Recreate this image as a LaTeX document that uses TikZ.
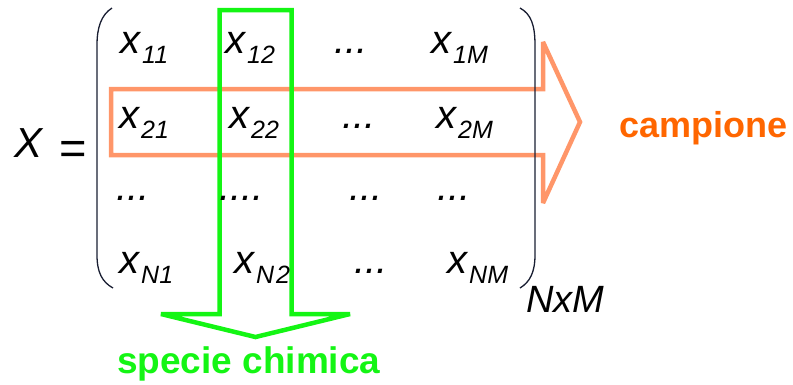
\documentclass[tikz,border=0pt]{standalone}
\usepackage{fontspec}
\setmainfont{Liberation Sans}
\definecolor{arrgreen}{RGB}{20,245,20}
\definecolor{arrorange}{RGB}{255,150,105}
\definecolor{txtorange}{RGB}{255,102,0}
\definecolor{parcol}{RGB}{25,30,50}
\newcommand{\bigit}{\fontsize{40}{40}\selectfont\itshape}
\newcommand{\subit}{\fontsize{25}{25}\selectfont\itshape}
\newcommand{\xs}[1]{x\kern2pt\raisebox{-10pt}{\subit #1}}
\tikzset{
  ent/.style={anchor=base west, inner sep=0pt, font=\bigit},
  lbl/.style={anchor=base west, inner sep=0pt, font=\fontsize{37}{37}\selectfont\bfseries},
  paren/.style={draw=parcol, line width=1.3pt},
  greenarrow/.style={draw=arrgreen, line width=4.5pt, miter limit=2},
  orangearrow/.style={draw=arrorange, line width=4.5pt, miter limit=2},
}
\begin{document}
\begin{tikzpicture}[x=1pt,y=-1pt]
\useasboundingbox (0,0) rectangle (793,384);
% orange arrow (row)
\draw[orangearrow] (111,89) -- (543,89) -- (543,42) -- (580,122) -- (543,203) -- (543,155) -- (111,155) -- cycle;
% green arrow (column)
\draw[greenarrow] (219.5,10) -- (291.5,10) -- (291.5,314) -- (350,314) -- (255.5,337) -- (161,314) -- (219.5,314) -- cycle;
% parentheses
\draw[paren] (112,8) .. controls (101,15) and (97,28) .. (97,45) -- (97,255) .. controls (97,272) and (102,282) .. (113,288);
\draw[paren] (520,8) .. controls (531,14) and (535,25) .. (535,45) -- (535,255) .. controls (535,272) and (530,282) .. (520,288);
% X =
\node[ent, font=\fontsize{42}{42}\selectfont\itshape] (X) at (14,157) {X};
\node[ent, font=\fontsize{47}{47}\selectfont] (eq) at (59,164) {=};
% row 1
\node[ent] (x11) at (120,53) {\xs{11}};
\node[ent] (x12) at (225,53) {\xs{12}};
\node[ent] (d13) at (334,53) {...};
\node[ent] (x1M) at (431,53) {\xs{1M}};
% row 2
\node[ent] (x21) at (119,128) {\xs{21}};
\node[ent] (x22) at (229,128) {\xs{22}};
\node[ent] (d23) at (342,128) {...};
\node[ent] (x2M) at (436,128) {\xs{2M}};
% row 3
\node[ent] (d31) at (116,200) {...};
\node[ent] (d32) at (219,200) {....};
\node[ent] (d33) at (349,200) {...};
\node[ent] (d34) at (437,200) {...};
% row 4
\node[ent] (xN1) at (119,273) {\xs{N1}};
\node[ent] (xN2) at (234,273) {\xs{N\kern2pt 2}};
\node[ent] (d43) at (354,273) {...};
\node[ent] (xNM) at (447,273) {\xs{NM}};
% size
\node[ent, font=\fontsize{38}{38}\selectfont\itshape] (size) at (526,312) {NxM};
% labels
\node[lbl, text=txtorange, font=\fontsize{36}{36}\selectfont\bfseries] (camp) at (619,137) {campione};
\node[lbl, text=arrgreen] (spec) at (117,373) {specie chimica};
\end{tikzpicture}
\end{document}
